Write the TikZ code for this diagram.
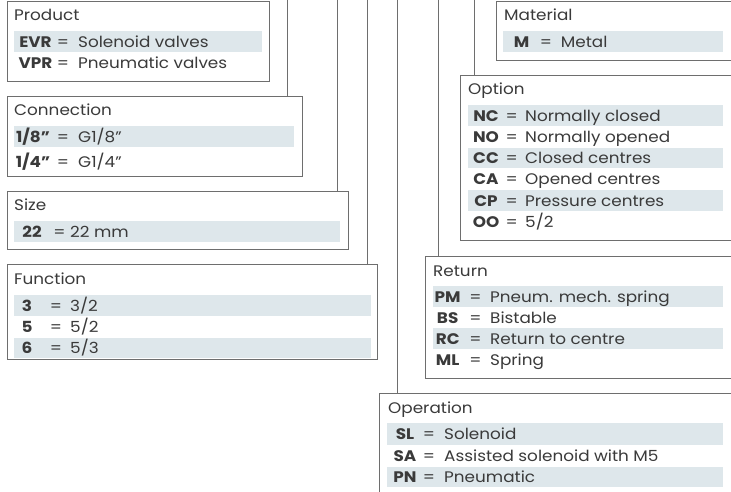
\documentclass[tikz,border=0pt]{standalone}
\usepackage{fontspec}
\setmainfont[FakeStretch=1.1]{Poppins}
\definecolor{bordergray}{HTML}{6E6E6E}
\definecolor{txt}{HTML}{3A3A3A}
\definecolor{barcol}{HTML}{DEE7EB}
\newcommand\fsz{\fontsize{15.3}{17}\selectfont}
\newcommand\entry[7]{%
  \node[codestyle] at (#2,#1+5.5) {#3};
  \node[eqstyle] at (#4,#1+5.5) {=};
  \node[descstyle] at (#5,#1+5.5) {#6};}
\begin{document}
\begin{tikzpicture}[x=1pt,y=-1pt,
  box/.style={draw=bordergray, line width=0.9pt, fill=white, anchor=north west, inner sep=0pt},
  titlestyle/.style={anchor=base west, inner sep=0pt, text=txt, font=\fsz},
  codestyle/.style={anchor=base, inner sep=0pt, text=txt, font=\fsz\bfseries},
  eqstyle/.style={anchor=base, inner sep=0pt, text=txt, font=\fsz},
  descstyle/.style={anchor=base west, inner sep=0pt, text=txt, font=\fsz},
  bar/.style={fill=barcol},
  guide/.style={draw=bordergray, line width=0.9pt}]
\useasboundingbox (0,0) rectangle (731,491);
\clip (0,0) rectangle (731,491);
% top anchors for guide lines
\coordinate (t1) at (287,-2);
\coordinate (t2) at (337,-2);
\coordinate (t3) at (367,-2);
\coordinate (t4) at (397,-2);
\coordinate (t5) at (438,-2);
\coordinate (t6) at (474,-2);
% boxes
\node[box, minimum width=262pt, minimum height=80pt] (product) at (7,1) {};
\node[box, minimum width=295pt, minimum height=80pt] (connection) at (7,96) {};
\node[box, minimum width=341pt, minimum height=58pt] (size) at (7,191) {};
\node[box, minimum width=370pt, minimum height=95pt] (function) at (7,264) {};
\node[box, minimum width=240pt, minimum height=59pt] (material) at (496,1) {};
\node[box, minimum width=276pt, minimum height=165pt] (option) at (460,75) {};
\node[box, minimum width=311pt, minimum height=122pt] (return) at (425,256) {};
\node[box, minimum width=357pt, minimum height=110pt] (operation) at (379,393) {};
% guide lines
\draw[guide] (t1) -- (t1 |- connection.north);
\draw[guide] (t2) -- (t2 |- size.north);
\draw[guide] (t3) -- (t3 |- function.north);
\draw[guide] (t4) -- (t4 |- operation.north);
\draw[guide] (t5) -- (t5 |- return.north);
\draw[guide] (t6) -- (t6 |- option.north);
% bars
\fill[bar] (14,31) rectangle (262,52);
\fill[bar] (14,126) rectangle (294,147);
\fill[bar] (14,221) rectangle (340,242);
\fill[bar] (14,295) rectangle (371,316);
\fill[bar] (14,338) rectangle (371,358);
\fill[bar] (503,31) rectangle (723,52);
\fill[bar] (468,105) rectangle (723,126);
\fill[bar] (468,148) rectangle (723,168);
\fill[bar] (468,190) rectangle (723,211);
\fill[bar] (433,286) rectangle (723,307);
\fill[bar] (433,328) rectangle (723,349);
\fill[bar] (387,423) rectangle (723,445);
\fill[bar] (387,467) rectangle (723,487);
% Product
\node[titlestyle] (productT) at (14,20.5) {Product};
\entry{41.5}{35.5}{EVR}{63}{78}{Solenoid valves}{}
\entry{63}{35.5}{VPR}{63}{78}{Pneumatic valves}{}
% Connection
\node[titlestyle] (connectionT) at (14,115.5) {Connection};
\entry{136.5}{33}{1/8”}{63}{78}{G1/8”}{}
\entry{162}{33}{1/4”}{63}{78}{G1/4”}{}
% Size
\node[titlestyle] (sizeT) at (14,210.5) {Size};
\entry{231.5}{32}{22}{59.5}{70}{22 mm}{}
% Function
\node[titlestyle] (functionT) at (14,284.5) {Function};
\entry{305.5}{27}{3}{56}{70}{3/2}{}
\entry{327}{27}{5}{56}{70}{5/2}{}
\entry{348}{27}{6}{56}{70}{5/3}{}
% Material
\node[titlestyle] (materialT) at (504,20.5) {Material};
\entry{41.5}{521.7}{M}{546}{560.7}{Metal}{}
% Option
\node[titlestyle] (optionT) at (468,94.5) {Option};
\entry{115.5}{486}{NC}{511.7}{525}{Normally closed}{}
\entry{136.5}{486}{NO}{511.7}{525}{Normally opened}{}
\entry{158}{486}{CC}{511.7}{525}{Closed centres}{}
\entry{179}{486}{CA}{511.7}{525}{Opened centres}{}
\entry{200.5}{486}{CP}{511.7}{525}{Pressure centres}{}
\entry{221.5}{486}{OO}{511.7}{525}{5/2}{}
% Return
\node[titlestyle] (returnT) at (433,276.5) {Return};
\entry{296.5}{447.7}{PM}{475.5}{490}{Pneum. mech. spring}{}
\entry{317.5}{447.7}{BS}{475.5}{490}{Bistable}{}
\entry{338.5}{447.7}{RC}{475.5}{490}{Return to centre}{}
\entry{360}{447.7}{ML}{475.5}{490}{Spring}{}
% Operation
\node[titlestyle] (operationT) at (388,413.5) {Operation};
\entry{434}{405}{SL}{429}{444}{Solenoid}{}
\entry{455.5}{405}{SA}{429}{444}{Assisted solenoid with M5}{}
\entry{477}{405}{PN}{429}{444}{Pneumatic}{}
\end{tikzpicture}
\end{document}
